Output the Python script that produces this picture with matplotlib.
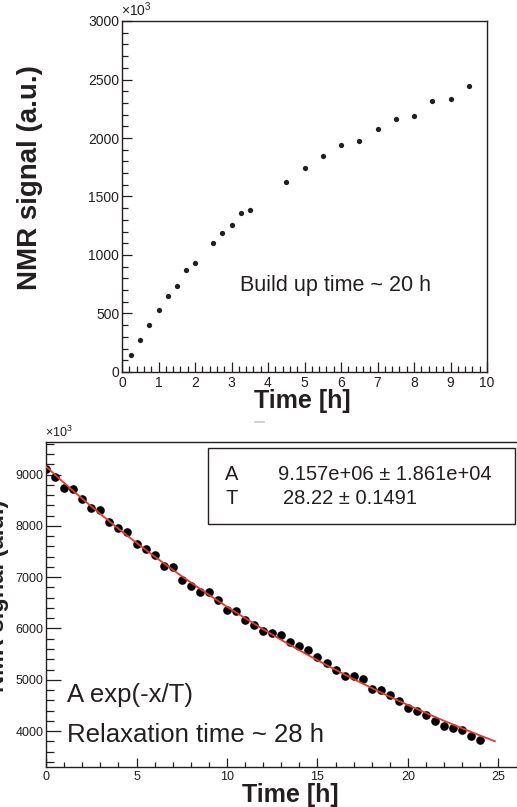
import numpy as np
import matplotlib
matplotlib.use("Agg")
import matplotlib.pyplot as plt
from matplotlib.ticker import MultipleLocator
from matplotlib.patches import Rectangle
from matplotlib.lines import Line2D

plt.rcParams["font.family"] = ["Liberation Sans", "DejaVu Sans"]

# build-up measurement (signal in units of 10^3)
buildup_time = [0.25, 0.5, 0.75, 1.0, 1.25, 1.5, 1.75, 2.0, 2.5, 2.75, 3.0, 3.25, 3.5,
                4.5, 5.0, 5.5, 6.0, 6.5, 7.0, 7.5, 8.0, 8.5, 9.0, 9.5]
buildup_signal = [143, 271, 404, 533, 647, 738, 875, 929, 1103, 1185, 1259, 1356, 1385,
                  1621, 1741, 1846, 1943, 1977, 2080, 2162, 2185, 2319, 2333, 2444]

# relaxation measurement (signal in units of 10^3)
relax_time = [0.0, 0.5, 1.0, 1.5, 2.0, 2.5, 3.0, 3.5, 4.0, 4.5, 5.0, 5.5, 6.0, 6.5, 7.0,
              7.5, 8.0, 8.5, 9.0, 9.5, 10.0, 10.5, 11.0, 11.5, 12.0, 12.5, 13.0, 13.5,
              14.0, 14.5, 15.0, 15.5, 16.0, 16.5, 17.0, 17.5, 18.0, 18.5, 19.0, 19.5,
              20.0, 20.5, 21.0, 21.5, 22.0, 22.5, 23.0, 23.5, 24.0]
relax_signal = [9111, 8948, 8733, 8722, 8526, 8350, 8312, 8070, 7960, 7875, 7655, 7557,
                7435, 7226, 7193, 6953, 6836, 6713, 6706, 6560, 6355, 6349, 6157, 6073,
                5946, 5920, 5875, 5739, 5661, 5575, 5452, 5322, 5199, 5082, 5068, 5018,
                4828, 4803, 4698, 4589, 4445, 4386, 4316, 4199, 4101, 4062, 4029, 3899,
                3834]

# fit A exp(-x/T)
fit_A = 9.157e6
fit_T = 28.22
fit_lines = [("A", "9.157e+06 \u00b1 1.861e+04"), ("T", "28.22 \u00b1 0.1491")]

INK = "#231f20"
W, H = 517, 807
fig = plt.figure(figsize=(W / 100, H / 100), dpi=100)


def fx(x):
    return x / W


def fy(y):
    return 1 - y / H


def style(ax, xmaj, xmin_, ymaj, ymin_, lab, xl, yl):
    ax.xaxis.set_major_locator(MultipleLocator(xmaj))
    ax.xaxis.set_minor_locator(MultipleLocator(xmin_))
    ax.yaxis.set_major_locator(MultipleLocator(ymaj))
    ax.yaxis.set_minor_locator(MultipleLocator(ymin_))
    ax.tick_params(which="both", direction="in", top=False, right=False,
                   colors=INK, labelsize=lab, width=0.9)
    ax.tick_params(axis="x", which="major", length=xl[0], pad=3)
    ax.tick_params(axis="x", which="minor", length=xl[1])
    ax.tick_params(axis="y", which="major", length=yl[0], pad=2)
    ax.tick_params(axis="y", which="minor", length=yl[1])
    for s in ax.spines.values():
        s.set_color(INK)
        s.set_linewidth(1.0)


# ---- top: build up ----
ax1 = fig.add_axes([fx(122), fy(372), (487 - 122) / W, (372 - 21) / H])
ax1.plot(buildup_time, buildup_signal, "o", ms=3.8, color=INK, mec="none")
ax1.set_xlim(0, 10)
ax1.set_ylim(0, 3000)
style(ax1, 1, 0.2, 500, 100, 10, (7.2, 4.0), (7.2, 4.3))

fig.text(fx(121), fy(19), r"$\mathregular{\times10^3}$", fontsize=10, color=INK,
         ha="left", va="bottom")
fig.text(fx(30), fy(178), "NMR signal (a.u.)", rotation=90, ha="center",
         va="center", fontsize=20, weight="bold", color=INK)
fig.text(fx(302), fy(401), "Time [h]", ha="center", va="center", fontsize=18,
         weight="bold", color=INK)
fig.text(fx(240), fy(285), "Build up time ~ 20 h", ha="left", va="center",
         fontsize=15.5, color=INK)
fig.add_artist(Line2D([fx(255), fx(264)], [fy(422), fy(422)], color="#c8c8c8",
                      lw=1.2, transform=fig.transFigure))

# ---- bottom: relaxation ----
ax2 = fig.add_axes([fx(46), fy(767), 26.5 * 18.1 / W, (767 - 442) / H])
ax2.plot(relax_time, relax_signal, "o", ms=6.2, color="black", mec="none", zorder=2)
tt = np.linspace(0, 24.8, 200)
ax2.plot(tt, fit_A * np.exp(-tt / fit_T) / 1e3, color="#e8382d", lw=1.3, zorder=3)
ax2.set_xlim(0, 26.5)
ax2.set_ylim(3300, 9635)
style(ax2, 5, 1, 1000, 200, 9, (6.5, 3.6), (10.8, 5.8))

fig.text(fx(45), fy(440), r"$\mathregular{\times10^3}$", fontsize=9, color=INK,
         ha="left", va="bottom")
fig.text(fx(9), fy(596), "NMR signal (a.u.)", rotation=90, ha="right",
         va="center", fontsize=17, weight="bold", color=INK)
fig.text(fx(290), fy(795), "Time [h]", ha="center", va="center", fontsize=18,
         weight="bold", color=INK)

fig.add_artist(Rectangle((fx(208), fy(524)), (515 - 208) / W, (524 - 448) / H,
                         fill=False, lw=1.0, ec=INK, transform=fig.transFigure))
for (name, val), yy, xv in zip(fit_lines, [474, 499], [278, 283]):
    fig.text(fx(225), fy(yy), name, ha="left", va="center", fontsize=14.5, color=INK)
    fig.text(fx(xv), fy(yy), val, ha="left", va="center", fontsize=14.5, color=INK)

fig.text(fx(67), fy(695), "A exp(-x/T)", ha="left", va="center", fontsize=18.5,
         color=INK)
fig.text(fx(67), fy(735), "Relaxation time ~ 28 h", ha="left", va="center",
         fontsize=18.5, color=INK)

fig.savefig("out.png", dpi=100)
